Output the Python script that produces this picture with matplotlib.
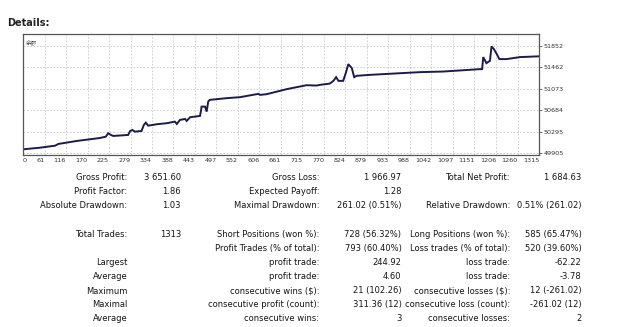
import numpy as np
import matplotlib.pyplot as plt

# balance curve (trade number, balance)
trade_no = [0, 43, 82, 90, 137, 196, 211, 217, 224, 230, 268, 273, 279, 285, 302,
            308, 313, 319, 341, 366, 387, 392, 400, 413, 417, 426, 451, 454, 455,
            464, 468, 472, 476, 519, 553, 600, 604, 621, 672, 723, 748, 757, 782,
            791, 798, 804, 816, 823, 829, 838, 844, 850, 884, 1012, 1071, 1164,
            1170, 1173, 1181, 1190, 1194, 1200, 1207, 1214, 1232, 1266, 1313]
balance = [49977, 50006, 50043, 50074, 50128, 50182, 50206, 50268, 50237, 50219,
           50237, 50309, 50327, 50297, 50309, 50418, 50460, 50405, 50431, 50449,
           50478, 50436, 50509, 50527, 50491, 50558, 50581, 50690, 50750, 50750,
           50659, 50841, 50872, 50903, 50921, 50981, 50962, 50975, 51066, 51138,
           51131, 51144, 51167, 51216, 51283, 51216, 51216, 51367, 51519, 51447,
           51283, 51307, 51325, 51374, 51385, 51428, 51428, 51646, 51537, 51579,
           51839, 51791, 51706, 51610, 51610, 51646, 51660]

x_labels = ["0", "61", "116", "170", "225", "279", "334", "388", "443", "497",
            "552", "606", "661", "715", "770", "824", "879", "933", "988", "1042",
            "1097", "1151", "1206", "1260", "1315"]
y_ticks = [49905, 50295, 50684, 51073, 51462, 51852]

# report table: (label, value) pairs for the three column groups
rows = [
    [("Gross Profit:", "3 651.60"), ("Gross Loss:", "1 966.97"), ("Total Net Profit:", "1 684.63")],
    [("Profit Factor:", "1.86"), ("Expected Payoff:", "1.28"), ("", "")],
    [("Absolute Drawdown:", "1.03"), ("Maximal Drawdown:", "261.02 (0.51%)"),
     ("Relative Drawdown:", "0.51% (261.02)")],
    None,
    [("Total Trades:", "1313"), ("Short Positions (won %):", "728 (56.32%)"),
     ("Long Positions (won %):", "585 (65.47%)")],
    [("", ""), ("Profit Trades (% of total):", "793 (60.40%)"),
     ("Loss trades (% of total):", "520 (39.60%)")],
    [("Largest", ""), ("profit trade:", "244.92"), ("loss trade:", "-62.22")],
    [("Average", ""), ("profit trade:", "4.60"), ("loss trade:", "-3.78")],
    [("Maximum", ""), ("consecutive wins ($):", "21 (102.26)"),
     ("consecutive losses ($):", "12 (-261.02)")],
    [("Maximal", ""), ("consecutive profit (count):", "311.36 (12)"),
     ("consecutive loss (count):", "-261.02 (12)")],
    [("Average", ""), ("consecutive wins:", "3"), ("consecutive losses:", "2")],
]

W, H = 640, 327
fig = plt.figure(figsize=(W / 100, H / 100), dpi=100)
fig.patch.set_facecolor("white")

fig.text(7 / W, 1 - 23 / H, "Details:", fontsize=7, fontweight="bold",
         color="#222222", va="center", ha="left")

ax = fig.add_axes([23 / W, 1 - 155 / H, 516 / W, 120.7 / H])
ax.plot(trade_no, balance, color="#1c1c4a", lw=1.4, solid_joinstyle="miter")
ax.set_xlim(0, 1315)
ax.set_ylim(49874, 52059)

xt = np.linspace(0, 1315, len(x_labels))
ax.set_xticks(xt)
ax.set_xticklabels(x_labels)
for i, lab in enumerate(ax.get_xticklabels()):
    lab.set_horizontalalignment("left" if i == 0 else "right")
ax.set_yticks(y_ticks)
ax.set_yticklabels([str(v) for v in y_ticks])
ax.yaxis.tick_right()
ax.tick_params(axis="both", labelsize=4.6, colors="#333333", length=2,
               width=0.5, pad=1.5)
ax.tick_params(axis="x", length=0, pad=2)
ax.grid(True, color="#c8c8c8", lw=0.6, ls=(0, (2, 2)))
for s in ax.spines.values():
    s.set_color("#555555")
    s.set_linewidth(0.9)

ax.text(0.006, 0.95, "余额", transform=ax.transAxes, fontsize=4,
        color="#444444", va="top", ha="left",
        family=["Noto Sans CJK SC", "DejaVu Sans"])

# statistics block
label_x = [127.5, 319.5, 510]
value_x = [181, 401.5, 581.5]
row_y = [177.7, 191, 205.3, None, 234.7, 248.3, 262.3, 276.3, 291, 304.3, 318.3]
for row, y in zip(rows, row_y):
    if row is None:
        continue
    for (lab, val), lx, vx in zip(row, label_x, value_x):
        if lab:
            fig.text(lx / W, 1 - y / H, lab, fontsize=6, color="#151515",
                     ha="right", va="center")
        if val:
            fig.text(vx / W, 1 - y / H, val, fontsize=6, color="#151515",
                     ha="right", va="center")

fig.savefig("out.png", dpi=100)
